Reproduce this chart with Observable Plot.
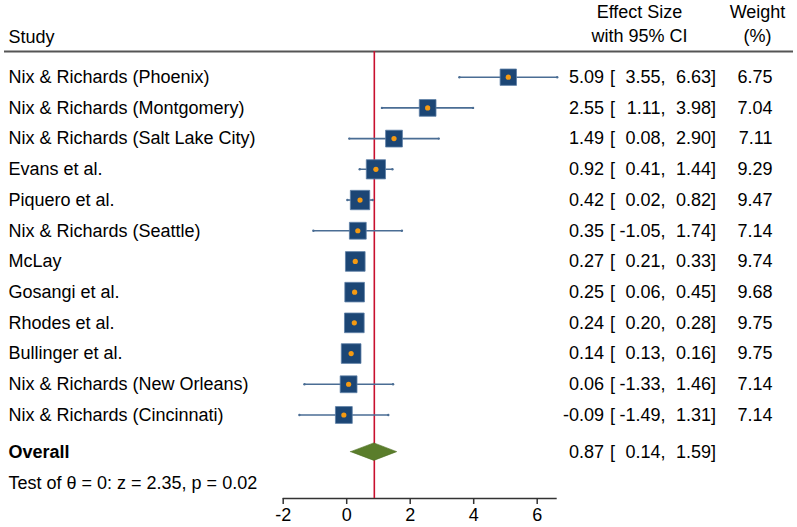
<!DOCTYPE html>
<html>
<head>
<meta charset="utf-8">
<script src="https://cdn.jsdelivr.net/npm/d3@7"></script>
<script src="https://cdn.jsdelivr.net/npm/@observablehq/plot@0.6"></script>
<style>
  html, body { margin: 0; padding: 0; background: #fff; }
  svg { display: block; }
</style>
</head>
<body>
<div id="chart"></div>
<script>
// ---- data ----
const studies = [
  "Nix & Richards (Phoenix)",
  "Nix & Richards (Montgomery)",
  "Nix & Richards (Salt Lake City)",
  "Evans et al.",
  "Piquero et al.",
  "Nix & Richards (Seattle)",
  "McLay",
  "Gosangi et al.",
  "Rhodes et al.",
  "Bullinger et al.",
  "Nix & Richards (New Orleans)",
  "Nix & Richards (Cincinnati)"
];
const effect = [5.09, 2.55, 1.49, 0.92, 0.42, 0.35, 0.27, 0.25, 0.24, 0.14, 0.06, -0.09];
const ciLow  = [3.55, 1.11, 0.08, 0.41, 0.02, -1.05, 0.21, 0.06, 0.20, 0.13, -1.33, -1.49];
const ciHigh = [6.63, 3.98, 2.90, 1.44, 0.82, 1.74, 0.33, 0.45, 0.28, 0.16, 1.46, 1.31];
const weight = [6.75, 7.04, 7.11, 9.29, 9.47, 7.14, 9.74, 9.68, 9.75, 9.75, 7.14, 7.14];

const overallLabel = "Overall";
const overallEffect = 0.87;
const overallLow = 0.14;
const overallHigh = 1.59;
const testText = "Test of \u03b8 = 0: z = 2.35, p = 0.02";

const xTicks = [-2, 0, 2, 4, 6];
const headers = { study: "Study", es1: "Effect Size", es2: "with 95% CI", w1: "Weight", w2: "(%)" };

// ---- layout helpers ----
const rows = studies.map((s, i) => ({
  study: s, row: i, es: effect[i], lo: ciLow[i], hi: ciHigh[i], w: weight[i]
}));
const overallRow = 12.21;
const testRow = 13.23;
const fmt = (v) => v.toFixed(2);
const overall = { study: overallLabel, row: overallRow, es: overallEffect, lo: overallLow, hi: overallHigh };
const textRows = [...rows, overall];

const diamondH = 0.285;
const diamond = [
  { x: overallLow, y1: overallRow, y2: overallRow },
  { x: overallEffect, y1: overallRow - diamondH, y2: overallRow + diamondH },
  { x: overallHigh, y1: overallRow, y2: overallRow }
];

const FONT = "Liberation Sans, Arial, Helvetica, sans-serif";
const FS = 18;

const mL = 282.7, mR = 797 - 556.7;
const yTop = -0.837, yBottom = 13.72;

const chart = Plot.plot({
  width: 797,
  height: 527,
  marginLeft: mL,
  marginRight: mR,
  marginTop: 51,
  marginBottom: 29,
  style: { fontFamily: FONT, fontSize: FS + "px", color: "#000", background: "#fff" },
  x: { domain: [-2, 6.63], axis: null },
  y: { domain: [yTop, yBottom], reverse: true, axis: null },
  r: { type: "sqrt", domain: [0, 9.75], range: [0, 11.1] },
  marks: [
    // header rule across full width
    Plot.ruleY([yTop], { stroke: "#555", strokeWidth: 2, insetLeft: -(mL - 4), insetRight: -(mR - 4) }),
    // x axis line
    Plot.ruleY([yBottom], { stroke: "#333", strokeWidth: 1.5 }),
    Plot.axisX(xTicks, { anchor: "bottom", tickSize: 6, tickPadding: 4, fontSize: FS, stroke: "#333", strokeWidth: 1.5, color: "#000", tickFormat: (d) => String(d) }),
    // reference line at overall effect
    Plot.ruleX([overallEffect], { stroke: "#c8102e", strokeWidth: 1.6 }),
    // CIs
    Plot.link(rows, { x1: "lo", x2: "hi", y1: "row", y2: "row", stroke: "#4a6d94", strokeWidth: 1.6 }),
    Plot.dot(rows, { x: "lo", y: "row", r: 1.2, fill: "#4a6d94", stroke: null }),
    Plot.dot(rows, { x: "hi", y: "row", r: 1.2, fill: "#4a6d94", stroke: null }),
    // weight squares
    Plot.dot(rows, { x: "es", y: "row", r: "w", symbol: "square", fill: "#1c4675", stroke: "#5d7fa6", strokeWidth: 0.8 }),
    Plot.dot(rows, { x: "es", y: "row", r: 2.6, fill: "#f59a12", stroke: null }),
    // overall diamond
    Plot.areaY(diamond, { x: "x", y1: "y1", y2: "y2", fill: "#5a7d2b", stroke: "#4d6e22", strokeWidth: 0.6, curve: "linear" }),
    // study labels
    Plot.text(rows, { y: "row", text: "study", frameAnchor: "left", textAnchor: "start", dx: 8 - mL, fontSize: FS }),
    Plot.text([overall], { y: "row", text: "study", frameAnchor: "left", textAnchor: "start", dx: 8 - mL, fontSize: FS, fontWeight: "bold" }),
    Plot.text([testText], { y: [testRow], text: (d) => d, frameAnchor: "left", textAnchor: "start", dx: 8 - mL, fontSize: FS }),
    // effect size columns
    Plot.text(textRows, { y: "row", text: (d) => fmt(d.es), frameAnchor: "right", textAnchor: "end", dx: 603.5 - 556.7, fontSize: FS }),
    Plot.text(textRows, { y: "row", text: () => "[", frameAnchor: "right", textAnchor: "start", dx: 609.5 - 556.7, fontSize: FS }),
    Plot.text(textRows, { y: "row", text: (d) => fmt(d.lo) + ",", frameAnchor: "right", textAnchor: "end", dx: 665 - 556.7, fontSize: FS }),
    Plot.text(textRows, { y: "row", text: (d) => fmt(d.hi) + "]", frameAnchor: "right", textAnchor: "end", dx: 715.5 - 556.7, fontSize: FS }),
    Plot.text(rows, { y: "row", text: (d) => fmt(d.w), frameAnchor: "right", textAnchor: "end", dx: 772 - 556.7, fontSize: FS }),
    // headers
    Plot.text([headers.study], { y: [-1.30], text: (d) => d, frameAnchor: "left", textAnchor: "start", dx: 8 - mL, fontSize: FS }),
    Plot.text([headers.es1], { y: [-2.10], text: (d) => d, frameAnchor: "right", textAnchor: "middle", dx: 639 - 556.7, fontSize: FS }),
    Plot.text([headers.es2], { y: [-1.32], text: (d) => d, frameAnchor: "right", textAnchor: "middle", dx: 639 - 556.7, fontSize: FS }),
    Plot.text([headers.w1], { y: [-2.10], text: (d) => d, frameAnchor: "right", textAnchor: "middle", dx: 757 - 556.7, fontSize: FS }),
    Plot.text([headers.w2], { y: [-1.32], text: (d) => d, frameAnchor: "right", textAnchor: "middle", dx: 757 - 556.7, fontSize: FS })
  ]
});
document.getElementById("chart").appendChild(chart);
</script>
</body>
</html>
